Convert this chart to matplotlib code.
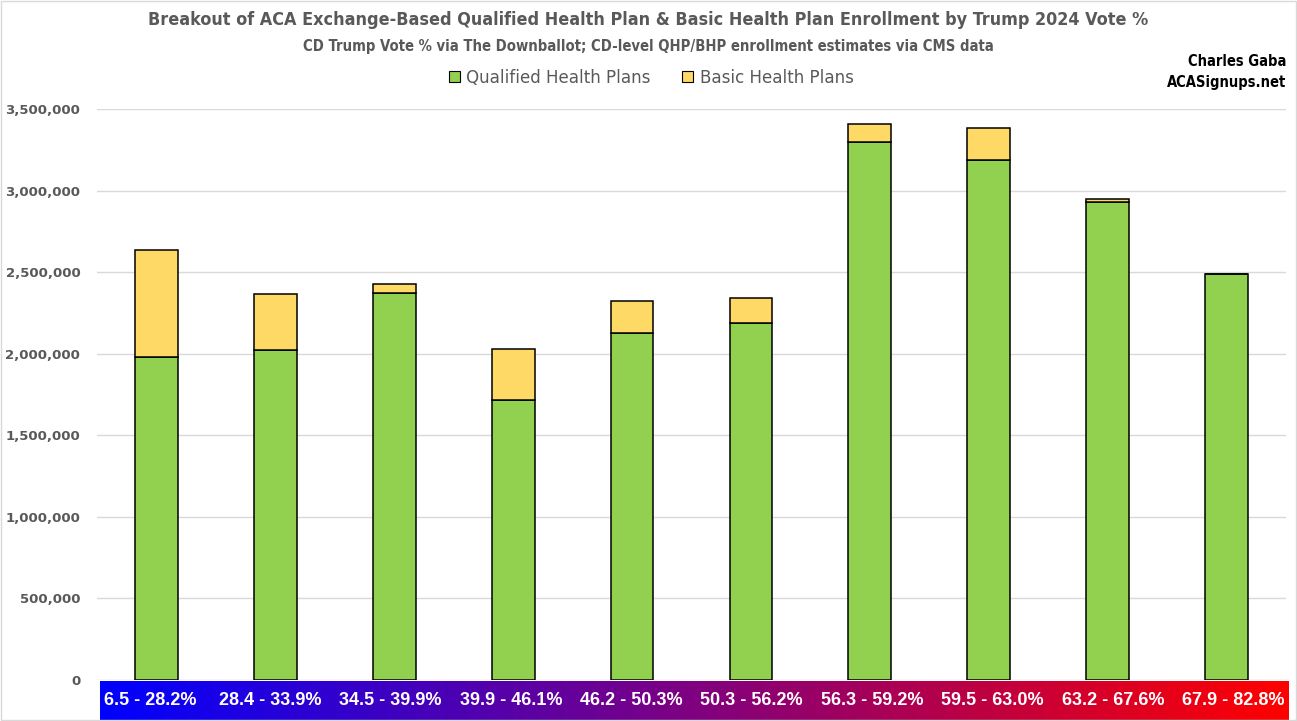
import numpy as np
import matplotlib
matplotlib.use("Agg")
from matplotlib import pyplot as plt
from matplotlib.patches import Patch, Rectangle
from matplotlib.ticker import FuncFormatter
from matplotlib.colors import LinearSegmentedColormap

# Trump 2024 vote % bands (CD level)
bands = ["6.5 - 28.2%", "28.4 - 33.9%", "34.5 - 39.9%", "39.9 - 46.1%", "46.2 - 50.3%",
         "50.3 - 56.2%", "56.3 - 59.2%", "59.5 - 63.0%", "63.2 - 67.6%", "67.9 - 82.8%"]
# enrollment estimates
qhp = [1981000, 2024000, 2376000, 1717000, 2127000, 2188000, 3301000, 3190000, 2932000, 2492000]
bhp = [657000, 343000, 55000, 315000, 196000, 154000, 110000, 197000, 15000, 0]

yticks = [0, 500000, 1000000, 1500000, 2000000, 2500000, 3000000, 3500000]

narrow = ["DejaVu Sans"]
green = "#92D050"
yellow = "#FFD966"
gray = "#595959"

fig = plt.figure(figsize=(12.97, 7.21), dpi=100)
ax = fig.add_axes([0.0748, 0.0569, 0.9167, 0.7915])

x = np.arange(len(bands))
ax.bar(x, qhp, width=0.36, color=green, edgecolor="black", lw=1.1, zorder=3, label="Qualified Health Plans")
ax.bar(x, bhp, width=0.36, bottom=qhp, color=yellow, edgecolor="black", lw=1.1, zorder=3, label="Basic Health Plans")

ax.set_xlim(-0.5, len(bands) - 0.5)
ax.set_ylim(0, 3500000)
ax.set_yticks(yticks)
ax.yaxis.set_major_formatter(FuncFormatter(lambda v, p: "{:,.0f}".format(v)))
for lab in ax.get_yticklabels():
    lab.set_fontweight("bold")
    lab.set_color(gray)
    lab.set_fontsize(9.5)
ax.tick_params(axis="y", length=0, pad=12)
ax.set_xticks([])
ax.grid(axis="y", color="#D9D9D9", lw=1, zorder=0)
for s in ax.spines.values():
    s.set_visible(False)

# gradient band with the vote % labels
bax = fig.add_axes([100 / 1297, 1 / 721, 1189 / 1297, 39 / 721])
cmap = LinearSegmentedColormap.from_list("bluered", ["#0000FF", "#FF0000"])
bax.imshow(np.linspace(0, 1, 256).reshape(1, -1), aspect="auto", cmap=cmap, extent=[0, 1, 0, 1])
bax.set_xlim(0, 1)
bax.set_ylim(0, 1)
bax.axis("off")
for xp, lab in zip(np.linspace(0.042, 0.953, len(bands)), bands):
    bax.text(xp, 0.5, lab, color="white", fontweight="bold", fontsize=13, ha="center", va="center",
             family=["Liberation Sans", "DejaVu Sans"])

fig.text(0.5, 1 - 20 / 721, "Breakout of ACA Exchange-Based Qualified Health Plan & Basic Health Plan Enrollment by Trump 2024 Vote %",
         ha="center", va="center", fontsize=12.9, fontweight="bold", color=gray, family=narrow, fontstretch="condensed")
fig.text(0.5, 1 - 46 / 721, "CD Trump Vote % via The Downballot; CD-level QHP/BHP enrollment estimates via CMS data",
         ha="center", va="center", fontsize=10.6, fontweight="bold", color=gray, family=narrow, fontstretch="condensed")
fig.text(1286 / 1297, 1 - 61 / 721, "Charles Gaba", ha="right", va="center", fontsize=10.5,
         fontweight="bold", color="black", family=narrow, fontstretch="condensed")
fig.text(1286 / 1297, 1 - 82 / 721, "ACASignups.net", ha="right", va="center", fontsize=10.5,
         fontweight="bold", color="black", family=narrow, fontstretch="condensed")

handles = [Patch(facecolor=green, edgecolor="black", lw=0.8), Patch(facecolor=yellow, edgecolor="black", lw=0.8)]
fig.legend(handles, ["Qualified Health Plans", "Basic Health Plans"], loc="center",
           bbox_to_anchor=(651 / 1297, 1 - 78 / 721), ncol=2, frameon=False,
           handlelength=0.6, handleheight=0.6, handletextpad=0.35, columnspacing=1.7,
           prop={"family": narrow, "size": 13.3, "stretch": "condensed"}, labelcolor=gray)

fig.patches.append(Rectangle((0.001, 0.001), 0.998, 0.997, transform=fig.transFigure,
                             fill=False, edgecolor="#D9D9D9", lw=1))

fig.savefig("out.png", dpi=100)
